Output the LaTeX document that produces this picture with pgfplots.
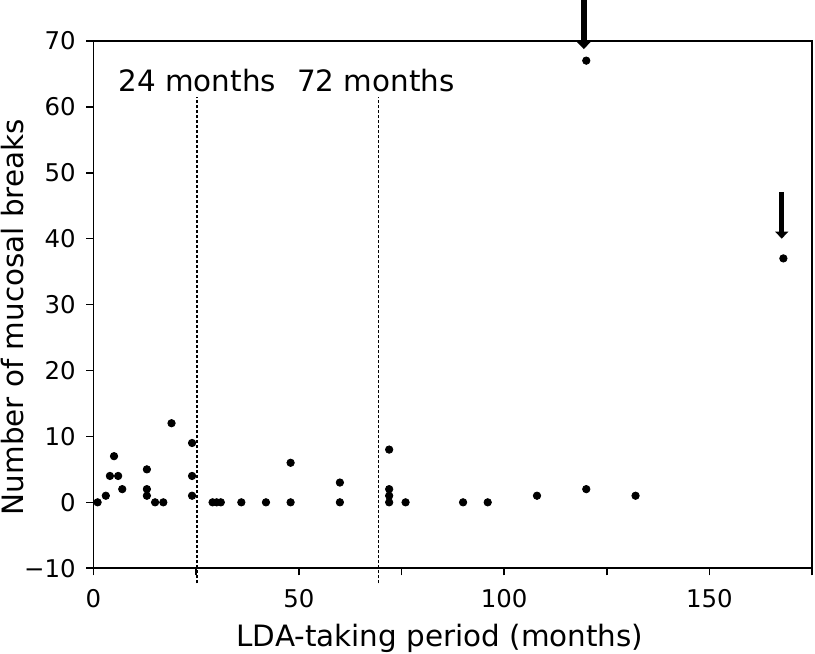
\documentclass[border=0pt]{standalone}
\usepackage{fontspec}
\setmainfont{DejaVu Sans}
\usepackage{pgfplots}
\pgfplotsset{compat=1.18}
\usetikzlibrary{arrows.meta}
\begin{document}
\begin{tikzpicture}
\begin{axis}[
 scale only axis, width=359.25pt, height=263.65pt,
 xmin=0, xmax=175, ymin=-10, ymax=70,
 xtick={0,25,...,175}, xticklabels={0,,50,,100,,150,},
 ytick={-10,0,...,70}, yticklabels={−10,0,10,20,30,40,50,60,70},
 xtick pos=bottom, ytick pos=left, tick align=outside,
 major tick length=3.5pt,
 every tick/.style={black, line width=0.8pt},
 axis line style={line width=0.8pt},
 clip=false,
 tick label style={font=\fontsize{12.2}{14}\selectfont, inner sep=0pt},
 xticklabel style={yshift=-7pt},
 yticklabel style={xshift=-5.25pt},
 label style={font=\fontsize{14.7}{17}\selectfont, inner sep=0pt},
 xlabel={LDA-taking period (months)},
 ylabel={Number of mucosal breaks},
 xlabel style={at={(axis description cs:0.482,-0.148)}, anchor=base},
 ylabel style={at={(axis description cs:-0.096,0.476)}, anchor=south},
]
\addplot[only marks, mark=*, mark size=1.85pt, black] table {
x y
1 0
3 1
4 4
5 7
6 4
7 2
13 5
13 2
13 1
15 0
17 0
19 12
24 9
24 4
24 1
29 0
30 0
31 0
36 0
42 0
48 0
48 6
60 3
60 0
72 8
72 2
72 1
72 0
76 0
90 0
96 0
108 1
120 2
132 1
120 67
168 37
};
\addplot[black, line width=0.6pt, dash pattern=on 1.5pt off 1pt] coordinates {(25.2,-12.3) (25.2,61.5)};
\addplot[black, line width=0.6pt, dash pattern=on 1.5pt off 1pt] coordinates {(69.5,-12.3) (69.5,61.5)};
\node[anchor=base, inner sep=0pt, font=\fontsize{14.7}{17}\selectfont] at (axis cs:25.3,62.3) {24 months};
\node[anchor=base, inner sep=0pt, font=\fontsize{14.7}{17}\selectfont] at (axis cs:68.8,62.3) {72 months};
\draw[line width=2.7pt, -{Triangle[width=6.5pt,length=3.5pt]}] (axis cs:119.4,76.2) -- (axis cs:119.4,68.75);
\draw[line width=2.7pt, -{Triangle[width=6.5pt,length=3.5pt]}] (axis cs:167.6,47.1) -- (axis cs:167.6,40.0);
\coordinate (bbA) at (axis cs:-22.77,-22.9);
\coordinate (bbB) at (axis cs:175.7,76.2);
\end{axis}
\pgfresetboundingbox
\path[use as bounding box] (bbA) rectangle (bbB);
\end{tikzpicture}
\end{document}
